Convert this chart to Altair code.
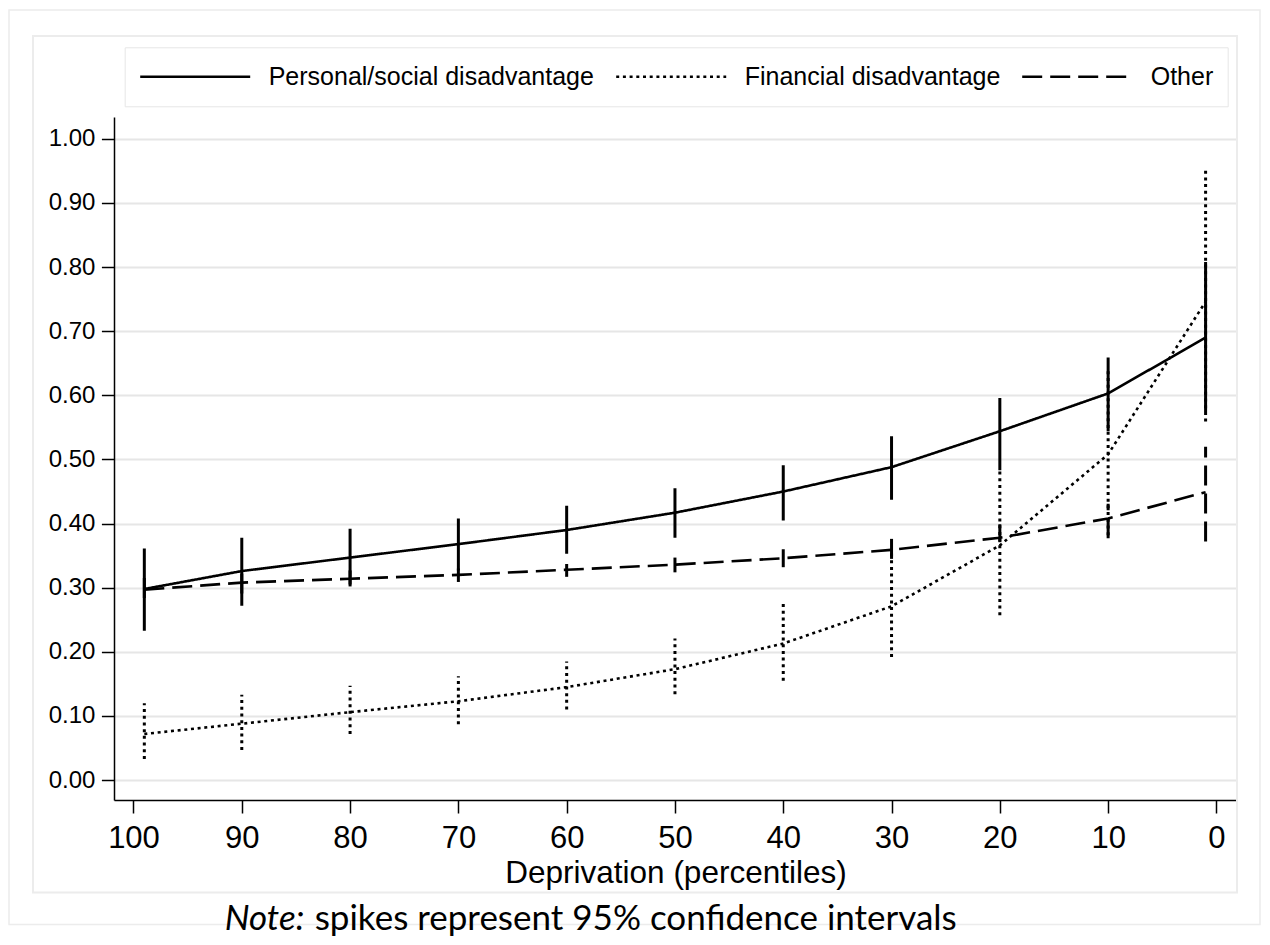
import altair as alt
import pandas as pd

# ---------------- data ----------------
x_pct = [99, 90, 80, 70, 60, 50, 40, 30, 20, 10, 1]
series_names = ["Personal/social disadvantage", "Financial disadvantage", "Other"]

personal_est = [0.298, 0.326, 0.347, 0.368, 0.390, 0.417, 0.450, 0.488, 0.544, 0.603, 0.690]
personal_lo = [0.233, 0.272, 0.305, 0.327, 0.353, 0.378, 0.405, 0.437, 0.483, 0.544, 0.574]
personal_hi = [0.361, 0.378, 0.392, 0.408, 0.428, 0.455, 0.491, 0.536, 0.596, 0.659, 0.808]

financial_est = [0.072, 0.088, 0.106, 0.123, 0.145, 0.173, 0.213, 0.271, 0.366, 0.508, 0.746]
financial_lo = [0.033, 0.047, 0.072, 0.087, 0.110, 0.134, 0.155, 0.192, 0.257, 0.382, 0.559]
financial_hi = [0.120, 0.133, 0.147, 0.162, 0.185, 0.221, 0.275, 0.358, 0.483, 0.638, 0.951]

other_est = [0.297, 0.308, 0.314, 0.320, 0.328, 0.336, 0.346, 0.359, 0.378, 0.408, 0.449]
other_lo = [0.284, 0.291, 0.302, 0.309, 0.317, 0.324, 0.332, 0.345, 0.371, 0.377, 0.372]
other_hi = [0.317, 0.322, 0.327, 0.330, 0.337, 0.347, 0.360, 0.378, 0.399, 0.431, 0.520]

y_ticks = [0.0, 0.1, 0.2, 0.3, 0.4, 0.5, 0.6, 0.7, 0.8, 0.9, 1.0]
x_ticks = [100, 90, 80, 70, 60, 50, 40, 30, 20, 10, 0]

note_label = "Note:"
note_text = "spikes represent 95% confidence intervals"

# ---------------- table ----------------
rows = []
for name, est, lo, hi in [
    (series_names[0], personal_est, personal_lo, personal_hi),
    (series_names[1], financial_est, financial_lo, financial_hi),
    (series_names[2], other_est, other_lo, other_hi),
]:
    for xv, e, l, h in zip(x_pct, est, lo, hi):
        rows.append({"pct": xv, "series": name, "est": e, "lo": l, "hi": h})
df = pd.DataFrame(rows)

AX_FONT = "Liberation Sans"
W, H = 1123, 683

x_scale = alt.Scale(domain=[-1.9, 101.8], reverse=True, nice=False, zero=False)
y_scale = alt.Scale(domain=[-0.031, 1.034], nice=False, zero=False)
dash_scale = alt.Scale(domain=series_names, range=[[1, 0], [3, 3.7], [20, 8]])

x_enc = alt.X(
    "pct:Q",
    scale=x_scale,
    axis=alt.Axis(
        values=x_ticks,
        title="Deprivation (percentiles)",
        grid=False,
        tickSize=13,
        tickWidth=1.5,
        tickColor="black",
        domainColor="black",
        domainWidth=1.5,
        labelFont=AX_FONT,
        labelFontSize=31,
        labelColor="black",
        labelBaseline="alphabetic",
        labelPadding=34,
        titleFont=AX_FONT,
        titleFontSize=31.5,
        titleFontWeight="normal",
        titleColor="black",
        titleBaseline="alphabetic",
        titleY=82,
    ),
)
y_enc_axis = alt.Axis(
    values=y_ticks,
    format=".2f",
    title=None,
    grid=True,
    gridColor="#e6e6e6",
    gridWidth=2,
    tickSize=12.6,
    tickWidth=1.5,
    tickColor="black",
    domainColor="black",
    domainWidth=1.5,
    labelFont=AX_FONT,
    labelFontSize=24,
    labelColor="black",
    labelPadding=6.5,
)

base = alt.Chart(df)

lines = base.mark_line(color="black", strokeWidth=2.6).encode(
    x=x_enc,
    y=alt.Y("est:Q", scale=y_scale, axis=y_enc_axis),
    strokeDash=alt.StrokeDash(
        "series:N",
        scale=dash_scale,
        legend=alt.Legend(
            title=None,
            orient="none",
            legendX=10.7,
            legendY=-69.7,
            direction="horizontal",
            symbolType="stroke",
            symbolSize=12100,
            symbolStrokeWidth=2.6,
            symbolStrokeColor="black",
            clipHeight=31,
            labelFont=AX_FONT,
            labelFontSize=25,
            labelColor="black",
            labelLimit=0,
            labelOffset=17,
            columnPadding=20,
            padding=14,
            strokeColor="#e6e6e6",
            fillColor="white",
        ),
    ),
)

spikes = base.mark_rule(color="black", strokeWidth=3).encode(
    x=alt.X("pct:Q", scale=x_scale),
    y=alt.Y("lo:Q", scale=y_scale),
    y2="hi:Q",
    strokeDash=alt.StrokeDash("series:N", scale=dash_scale, legend=None),
)

# decorative frames (outer and inner graph regions)
frame_src = pd.DataFrame({"k": [0]})
outer_frame = alt.Chart(frame_src).mark_rect(
    fillOpacity=0, stroke="#ececec", strokeWidth=1.5
).encode(x=alt.value(-105), x2=alt.value(1146), y=alt.value(-107), y2=alt.value(807.5))
inner_frame = alt.Chart(frame_src).mark_rect(
    fillOpacity=0, stroke="#ececec", strokeWidth=2
).encode(x=alt.value(-81), x2=alt.value(W), y=alt.value(-81), y2=alt.value(775.5))

note_df = pd.DataFrame({"a": [note_label], "b": [note_text]})
note1 = alt.Chart(note_df).mark_text(
    font="Lato", fontSize=35, fontStyle="italic", align="left", baseline="alphabetic", color="black"
).encode(text="a:N", x=alt.value(110.7), y=alt.value(813))
note2 = alt.Chart(note_df).mark_text(
    font="Lato", fontSize=35, align="left", baseline="alphabetic", color="black"
).encode(text="b:N", x=alt.value(200.7), y=alt.value(813))

chart = (
    alt.layer(outer_frame, inner_frame, lines, spikes, note1, note2)
    .properties(
        width=W,
        height=H,
        padding={"left": 106, "top": 109, "right": 25, "bottom": 137},
        autosize=alt.AutoSizeParams(type="none"),
        background="white",
    )
    .configure_view(stroke=None)
)

chart.save("out.html", embed_options={"renderer": "svg", "actions": False})
